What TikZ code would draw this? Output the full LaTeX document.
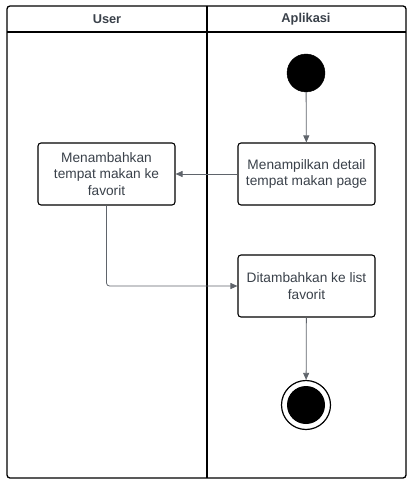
\documentclass[tikz,border=0pt]{standalone}
\usepackage{fontspec}
\setmainfont{Liberation Sans}
\usetikzlibrary{arrows.meta}
\definecolor{txt}{HTML}{3A414A}
\definecolor{conn}{HTML}{5F646B}
\tikzset{
  act/.style={draw=black, line width=1.1pt, rounded corners=3pt, minimum width=137pt, minimum height=62pt, align=center, text=txt, font=\fontsize{13.7}{16.7}\selectfont, inner sep=2pt},
  flow/.style={draw=conn, line width=0.8pt, -{Triangle[length=7pt,width=6pt]}, color=conn},
  hdr/.style={text=txt, font=\fontsize{12.8}{15}\selectfont\bfseries}
}
\begin{document}
\begin{tikzpicture}[x=1pt,y=-1pt]
\useasboundingbox (0,0) rectangle (412,481);
\draw[line width=1.3pt, rounded corners=3pt] (7,6) rectangle (406,478);
\draw[line width=1.3pt] (7,32) -- (406,32);
\draw[line width=1.3pt] (207,6) -- (207,478);
\node[hdr] (hu) at (107,19) {User};
\node[hdr] (ha) at (306,19) {Aplikasi};
\node[circle, fill=black, draw=black, minimum size=38pt, inner sep=0pt] (start) at (306,73) {};
\node[act] (detail) at (306.5,174) {Menampilkan detail\\tempat makan page};
\node[act] (tambah) at (106.5,174) {Menambahkan\\tempat makan ke\\favorit};
\node[act] (list) at (306.5,286) {Ditambahkan ke list\\favorit};
\node[circle, draw=black, line width=1.2pt, minimum size=49pt, inner sep=0pt] (end) at (306,405) {};
\node[circle, fill=black, minimum size=38pt, inner sep=0pt] (endin) at (306,405) {};
\draw[flow] (start) -- (detail);
\draw[flow] (detail) -- (tambah);
\draw[flow, rounded corners=3pt] (tambah.south) |- (list.west);
\draw[flow] (list) -- (end);
\end{tikzpicture}
\end{document}
